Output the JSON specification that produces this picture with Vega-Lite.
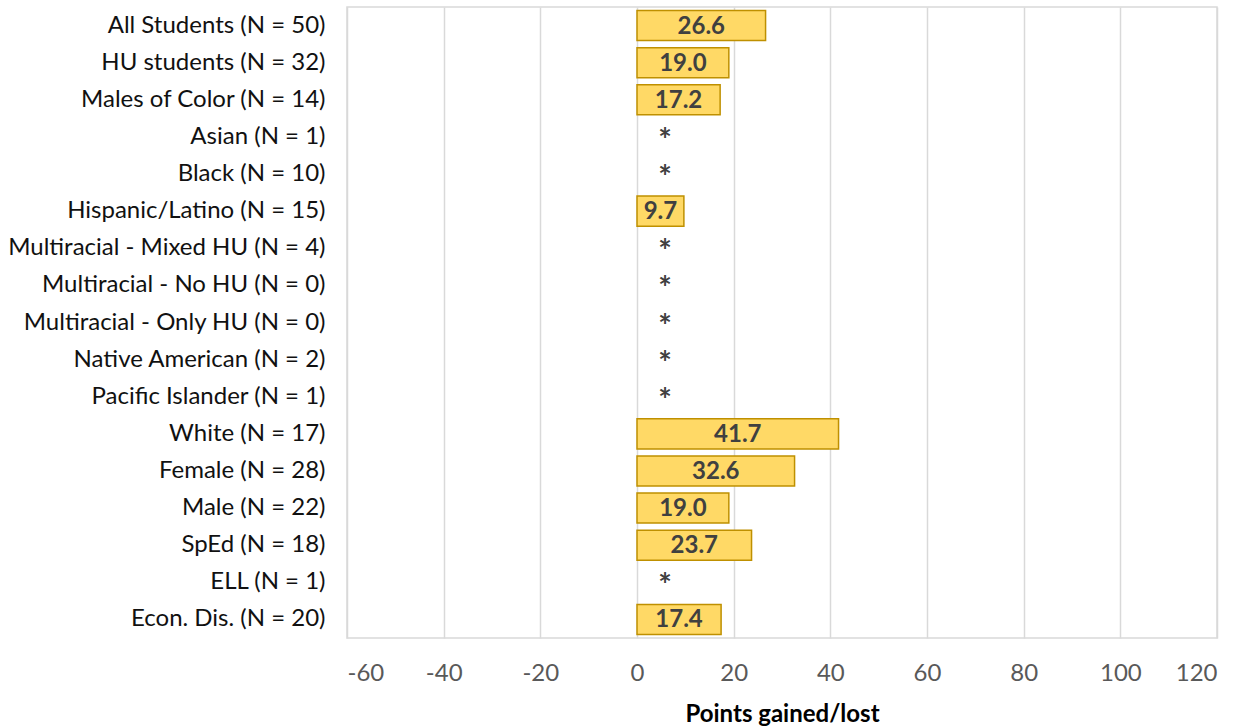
{
  "$schema": "https://vega.github.io/schema/vega-lite/v6.json",
  "width": 870,
  "height": 631,
  "autosize": {"type": "none"},
  "padding": {"left": 347, "top": 7, "right": 33, "bottom": 89},
  "background": "white",
  "config": {
    "font": "Lato",
    "view": {"stroke": "#D9D9D9", "strokeWidth": 1.5}
  },
  "data": {
    "values": [
      {"group": "All Students (N = 50)", "value": 26.6},
      {"group": "HU students (N = 32)", "value": 19.0},
      {"group": "Males of Color (N = 14)", "value": 17.2},
      {"group": "Asian (N = 1)", "value": null},
      {"group": "Black (N = 10)", "value": null},
      {"group": "Hispanic/Latino (N = 15)", "value": 9.7},
      {"group": "Multiracial - Mixed HU (N = 4)", "value": null},
      {"group": "Multiracial - No HU (N = 0)", "value": null},
      {"group": "Multiracial - Only HU (N = 0)", "value": null},
      {"group": "Native American (N = 2)", "value": null},
      {"group": "Pacific Islander (N = 1)", "value": null},
      {"group": "White (N = 17)", "value": 41.7},
      {"group": "Female (N = 28)", "value": 32.6},
      {"group": "Male (N = 22)", "value": 19.0},
      {"group": "SpEd (N = 18)", "value": 23.7},
      {"group": "ELL (N = 1)", "value": null},
      {"group": "Econ. Dis. (N = 20)", "value": 17.4}
    ]
  },
  "encoding": {
    "y": {
      "field": "group",
      "type": "nominal",
      "sort": [
        "All Students (N = 50)", "HU students (N = 32)", "Males of Color (N = 14)", "Asian (N = 1)", "Black (N = 10)",
        "Hispanic/Latino (N = 15)", "Multiracial - Mixed HU (N = 4)", "Multiracial - No HU (N = 0)", "Multiracial - Only HU (N = 0)",
        "Native American (N = 2)", "Pacific Islander (N = 1)", "White (N = 17)", "Female (N = 28)", "Male (N = 22)",
        "SpEd (N = 18)", "ELL (N = 1)", "Econ. Dis. (N = 20)"
      ],
      "scale": {"paddingInner": 0.19, "paddingOuter": 0.095},
      "axis": {
        "title": null,
        "domain": false,
        "ticks": false,
        "grid": false,
        "labelFontSize": 24,
        "labelColor": "#111111",
        "labelPadding": 22,
        "labelLimit": 400
      }
    }
  },
  "layer": [
    {
      "transform": [{"filter": "datum.value != null"}],
      "mark": {"type": "bar", "fill": "#FFD966", "stroke": "#BF9000", "strokeWidth": 1.5},
      "encoding": {
        "x": {
          "field": "value",
          "type": "quantitative",
          "scale": {"domain": [-60, 120], "nice": false, "zero": false},
          "axis": {
            "values": [-60, -40, -20, 0, 20, 40, 60, 80, 100, 120],
            "labelExpr": "'' + datum.value",
            "title": "Points gained/lost",
            "titleFontSize": 24,
            "titleFontWeight": "bold",
            "titleColor": "#000000",
            "titlePadding": 17,
            "domain": false,
            "ticks": false,
            "grid": true,
            "gridColor": "#D9D9D9",
            "gridWidth": 1.5,
            "labelFontSize": 24,
            "labelColor": "#595959",
            "labelPadding": 23
          }
        }
      }
    },
    {
      "transform": [
        {"filter": "datum.value != null"},
        {"calculate": "datum.value / 2", "as": "mid"}
      ],
      "mark": {"type": "text", "fontSize": 24, "fontWeight": "bold", "color": "#404040", "align": "center", "baseline": "middle", "dy": 1},
      "encoding": {
        "x": {"field": "mid", "type": "quantitative"},
        "text": {"field": "value", "type": "quantitative", "format": ".1f"}
      }
    },
    {
      "transform": [{"filter": "datum.value == null"}],
      "mark": {"type": "text", "text": "*", "fontSize": 32, "fontWeight": "bold", "color": "#404040", "align": "center", "baseline": "middle", "dy": 5},
      "encoding": {
        "x": {"datum": 5.8, "type": "quantitative"}
      }
    }
  ]
}
